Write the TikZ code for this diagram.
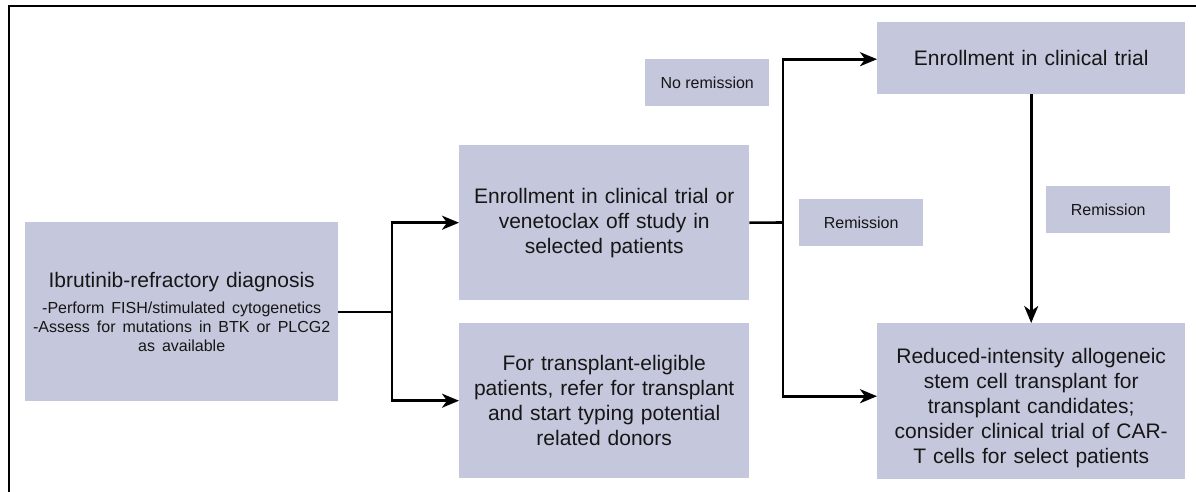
\documentclass[tikz,border=0pt]{standalone}
\usepackage{fontspec}
\setmainfont{Liberation Sans}
\usetikzlibrary{arrows.meta}
\definecolor{boxfill}{RGB}{197,200,220}
\definecolor{txt}{RGB}{22,22,22}
\begin{document}
\begin{tikzpicture}[x=1pt,y=-1pt,
  box/.style={fill=boxfill, inner sep=0pt, align=center, text=txt, anchor=north west,
    font=\fontsize{21}{25}\selectfont},
  lbl/.style={fill=boxfill, inner sep=0pt, text=txt, anchor=north west,
    minimum width=124pt, minimum height=47pt, font=\fontsize{16}{19}\selectfont},
  conn/.style={line width=2.6pt, draw=black},
  arr/.style={conn, -{Stealth[length=17pt,width=14pt,inset=5pt]}}]
\useasboundingbox (0,0) rectangle (1196,491);
% frame
\draw[line width=2.6pt, line join=miter] (9,495) -- (9,6) -- (1200,6);
% boxes
\node[box, minimum width=313pt, minimum height=179pt, text width=313pt] (A) at (25,222)
  {Ibrutinib-refractory diagnosis\par\vspace{7pt}\fontsize{16}{19}\selectfont
   -Perform FISH/stimulated cytogenetics\\-Assess for mutations in BTK or PLCG2\\as available\par};
\node[box, minimum width=290pt, minimum height=155pt, text width=290pt] (B) at (459,145)
  {Enrollment in clinical trial or\\venetoclax off study in\\selected patients};
\node[box, minimum width=290pt, minimum height=155pt, text width=290pt] (C) at (459,323)
  {For transplant-eligible\\patients, refer for transplant\\and start typing potential\\related donors};
\node[box, minimum width=308pt, minimum height=72pt, text width=308pt] (D) at (877,22)
  {Enrollment in clinical trial};
\node[box, minimum width=308pt, minimum height=156pt, text width=308pt] (E) at (877,323)
  {\rule{0pt}{29pt}Reduced-intensity allogeneic\\stem cell transplant for\\transplant candidates;\\consider clinical trial of CAR-\\T cells for select patients};
% labels
\node[lbl] (NR) at (645,59) {No remission};
\node[lbl] (R1) at (799,199) {Remission};
\node[lbl] (R2) at (1046,186) {Remission};
% connectors
\coordinate (j1) at (392,312);
\coordinate (j2) at (783,222.5);
\draw[conn] (A.east |- j1) -- (j1);
\draw[arr] (j1) |- (B.west);
\draw[arr] (j1) |- (C.west);
\draw[conn] (B.east) -- (j2);
\draw[arr] (j2) |- ([yshift=-1pt]D.west);
\draw[arr] (j2) |- ([yshift=5pt]E.west);
\draw[arr] (D.south) -- (E.north);
\end{tikzpicture}
\end{document}
